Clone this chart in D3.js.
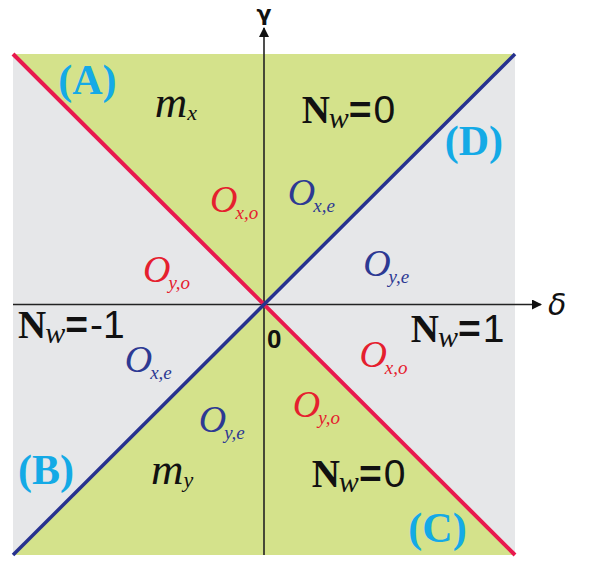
<!DOCTYPE html>
<html><head><meta charset="utf-8">
<script src="https://cdn.jsdelivr.net/npm/d3@7"></script>
<style>body{margin:0;background:#fff}svg{display:block}</style>
</head><body>
<script>
// ---- data ----
const domainDelta = [-1, 1];
const domainGamma = [-1, 1];
const redLine = [[-1, 1], [1, -1]];     // gamma = -delta
const blueLine = [[-1, -1], [1, 1]];    // gamma = delta
const greenRegions = [
  [[-1, 1], [1, 1], [0, 0]],
  [[-1, -1], [1, -1], [0, 0]]
];
const grayRegions = [
  [[-1, 1], [-1, -1], [0, 0]],
  [[1, 1], [1, -1], [0, 0]]
];
const caseLabels = [
  {t: "(A)", p: [-0.82, 0.84]},
  {t: "(B)", p: [-0.98, -0.715]},
  {t: "(C)", p: [0.575, -0.95]},
  {t: "(D)", p: [0.72, 0.597]}
];
const mLabels = [
  {t: "m", s: "x", p: [-0.435, 0.749]},
  {t: "m", s: "y", p: [-0.45, -0.715]}
];
const nwLabels = [
  {v: "0", p: [0.15, 0.725]},
  {v: "-1", p: [-0.98, -0.134]},
  {v: "1", p: [0.585, -0.15]},
  {v: "0", p: [0.19, -0.73]}
];
const oLabels = [
  {s: "x,o", c: "red", p: [-0.215, 0.37]},
  {s: "x,e", c: "blue", p: [0.095, 0.397]},
  {s: "y,o", c: "red", p: [-0.482, 0.09]},
  {s: "y,e", c: "blue", p: [0.395, 0.115]},
  {s: "x,e", c: "blue", p: [-0.555, -0.27]},
  {s: "x,o", c: "red", p: [0.38, -0.25]},
  {s: "y,e", c: "blue", p: [-0.26, -0.51]},
  {s: "y,o", c: "red", p: [0.115, -0.45]}
];

// ---- drawing ----
const W = 602, H = 561;
const svg = d3.select("body").append("svg").attr("width", W).attr("height", H);
const x = d3.scaleLinear().domain(domainDelta).range([13, 515]);
const y = d3.scaleLinear().domain(domainGamma).range([555, 54]);
const poly = d3.line().x(d => x(d[0])).y(d => y(d[1]));
const colors = {green: "#d4e28b", gray: "#e6e7e9", red: "#e8194e", blue: "#27328f",
  redText: "#e5202e", blueText: "#2d3993", cyan: "#14aae6"};

svg.selectAll(".g").data(greenRegions).enter().append("path")
  .attr("d", d => poly(d) + "Z").attr("fill", colors.green);
svg.selectAll(".gr").data(grayRegions).enter().append("path")
  .attr("d", d => poly(d) + "Z").attr("fill", colors.gray);

const defs = svg.append("defs");
defs.append("marker").attr("id", "arr").attr("viewBox", "0 0 10 10")
  .attr("refX", 9).attr("refY", 5).attr("markerWidth", 14).attr("markerHeight", 10)
  .attr("markerUnits", "userSpaceOnUse").attr("orient", "auto")
  .append("path").attr("d", "M0,0L10,5L0,10Z").attr("fill", "#111");

// axes
svg.append("line").attr("x1", x(-1)).attr("x2", 541).attr("y1", y(0)).attr("y2", y(0))
  .attr("stroke", "#222").attr("stroke-width", 1.6).attr("marker-end", "url(#arr)");
svg.append("line").attr("x1", x(0)).attr("x2", x(0)).attr("y1", y(-1)).attr("y2", 28)
  .attr("stroke", "#222").attr("stroke-width", 1.6).attr("marker-end", "url(#arr)");

svg.append("path").attr("d", poly(redLine)).attr("stroke", colors.red).attr("stroke-width", 4).attr("fill", "none");
svg.append("path").attr("d", poly(blueLine)).attr("stroke", colors.blue).attr("stroke-width", 3.5).attr("fill", "none");

// axis symbols
svg.append("text").attr("x", x(0)).attr("y", 21).attr("text-anchor", "middle")
  .attr("font-family", "DejaVu Sans").attr("font-size", 22).attr("font-weight", "bold")
  .attr("fill", "#111").text("γ");
svg.append("text").attr("x", 548).attr("y", y(0) + 10).attr("font-family", "DejaVu Sans")
  .attr("font-style", "italic").attr("font-size", 30).attr("fill", "#111").text("δ");
svg.append("text").attr("x", x(0) + 3).attr("y", y(0) + 43).attr("font-family", "Liberation Sans")
  .attr("font-weight", "bold").attr("font-size", 26).attr("fill", "#111").text("0");

// case labels
svg.selectAll(".case").data(caseLabels).enter().append("text")
  .attr("x", d => x(d.p[0])).attr("y", d => y(d.p[1]))
  .attr("font-family", "Liberation Serif").attr("font-weight", "bold").attr("font-size", 42)
  .attr("fill", colors.cyan).text(d => d.t);

// m labels
const mt = svg.selectAll(".m").data(mLabels).enter().append("text")
  .attr("x", d => x(d.p[0])).attr("y", d => y(d.p[1]))
  .attr("font-family", "Liberation Serif").attr("font-style", "italic").attr("font-size", 45).attr("fill", "#111");
mt.append("tspan").text(d => d.t);
mt.append("tspan").attr("font-size", 22).attr("dy", 3).text(d => d.s);

// N_w labels
const nt = svg.selectAll(".nw").data(nwLabels).enter().append("text")
  .attr("x", d => x(d.p[0])).attr("y", d => y(d.p[1])).attr("fill", "#111");
nt.append("tspan").attr("font-family", "Liberation Serif").attr("font-weight", "bold").attr("font-size", 39).text("N");
nt.append("tspan").attr("font-family", "Liberation Serif").attr("font-style", "italic").attr("font-size", 30).attr("dy", 5).attr("dx", -1).text("w");
nt.append("tspan").attr("font-family", "Liberation Sans").attr("font-weight", "bold").attr("font-size", 39).attr("dy", -5).text("=");
nt.append("tspan").attr("font-family", "Liberation Sans").attr("font-size", 39).attr("dx", 2).text(d => d.v);

// O labels
const ot = svg.selectAll(".o").data(oLabels).enter().append("text")
  .attr("x", d => x(d.p[0])).attr("y", d => y(d.p[1]))
  .attr("font-family", "Liberation Serif").attr("font-style", "italic")
  .attr("fill", d => d.c === "red" ? colors.redText : colors.blueText);
ot.append("tspan").attr("font-size", 38).text("O");
ot.append("tspan").attr("font-size", 19).attr("dy", 7).attr("dx", -2).text(d => d.s);
</script>
</body></html>
